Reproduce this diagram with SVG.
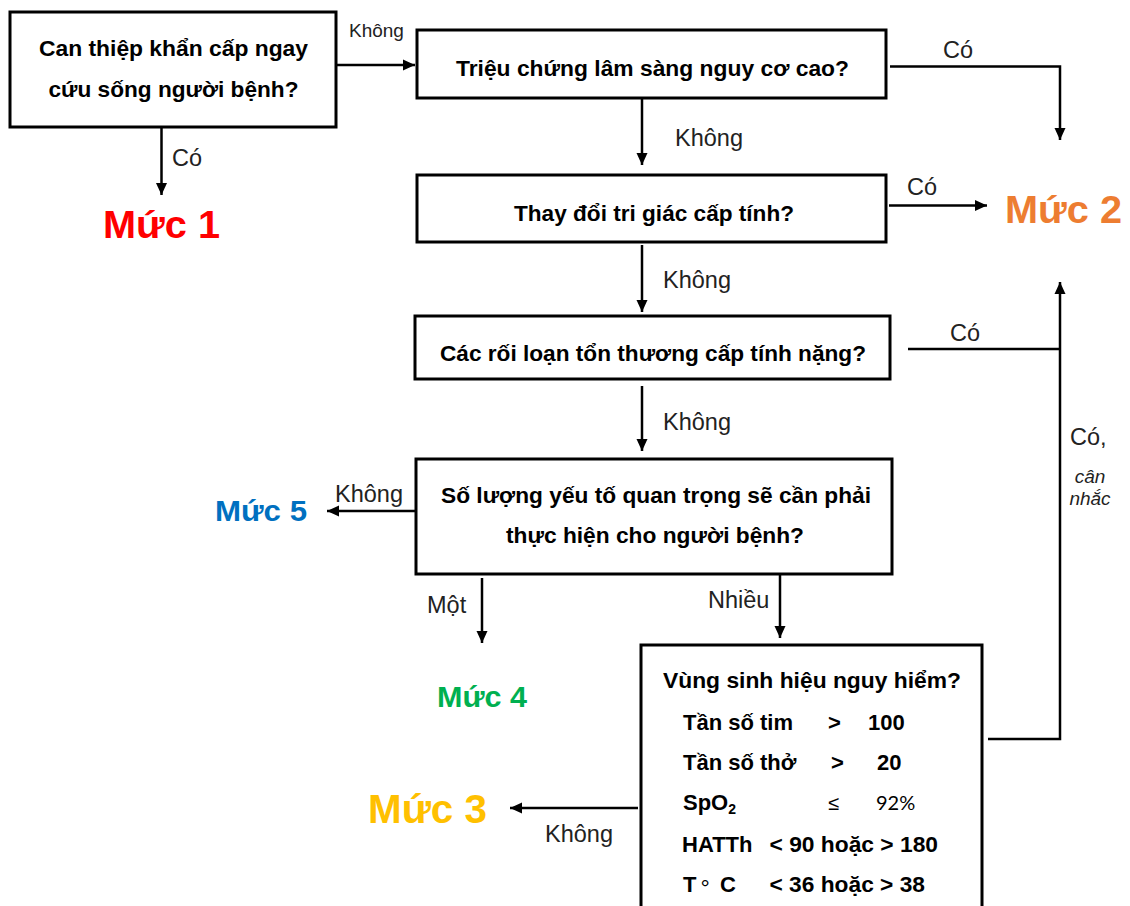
<svg xmlns="http://www.w3.org/2000/svg" width="1130" height="906" viewBox="0 0 1130 906">
  <defs>
    <marker id="ah" viewBox="0 0 12 12" refX="12" refY="6" markerWidth="12" markerHeight="12" markerUnits="userSpaceOnUse" orient="auto">
      <path d="M0,0.5 L12,6 L0,11.5 z" fill="#000"/>
    </marker>
    <style>
      .box { fill: #fff; stroke: #000; stroke-width: 3; }
      .q { font-family: "Liberation Sans", Arial, sans-serif; font-weight: bold; font-size: 21.5px; fill: #000; }
      .row { font-family: "Liberation Sans", Arial, sans-serif; font-weight: bold; font-size: 22px; fill: #000; }
      .thin { font-family: Lato, "Liberation Sans", sans-serif; font-size: 20px; fill: #000; }
      .sym { font-family: "Liberation Sans", Arial, sans-serif; font-size: 20px; fill: #000; }
      .lbl { font-family: "Liberation Sans", Arial, sans-serif; font-size: 23.5px; fill: #222; }
      .lbl-s { font-family: "Liberation Sans", Arial, sans-serif; font-size: 19px; fill: #222; }
      .note { font-family: "Liberation Sans", Arial, sans-serif; font-style: italic; font-size: 19px; fill: #222; }
      .lvl { font-family: "Liberation Sans", Arial, sans-serif; font-weight: bold; }
      .conn { fill: none; stroke: #000; stroke-width: 2.5; }
      .arr { marker-end: url(#ah); }
    </style>
  </defs>
  <rect width="1130" height="906" fill="#fff"/>

  <!-- connectors -->
  <g id="connectors">
    <path class="conn arr" d="M337,65 H415"/>
    <path class="conn arr" d="M161.5,128 V195"/>
    <path class="conn arr" d="M890,66.5 H1060 V140"/>
    <path class="conn arr" d="M642,98 V165"/>
    <path class="conn arr" d="M889,205.5 H987"/>
    <path class="conn arr" d="M642,245 V312"/>
    <path class="conn" d="M908,349 H1060"/>
    <path class="conn arr" d="M642,386 V451"/>
    <path class="conn arr" d="M416,511 H327"/>
    <path class="conn arr" d="M482,578 V643"/>
    <path class="conn arr" d="M780,574 V638"/>
    <path class="conn arr" d="M988,739 H1060 V282"/>
    <path class="conn arr" d="M638,808 H510"/>
  </g>

  <!-- connector labels -->
  <g id="labels">
    <text class="lbl-s" x="349" y="37">Không</text>
    <text class="lbl" x="172" y="166">Có</text>
    <text class="lbl" x="943" y="58">Có</text>
    <text class="lbl" x="675" y="146">Không</text>
    <text class="lbl" x="907" y="195">Có</text>
    <text class="lbl" x="663" y="288">Không</text>
    <text class="lbl" x="950" y="341">Có</text>
    <text class="lbl" x="663" y="430">Không</text>
    <text class="lbl" x="1070" y="445">Có,</text>
    <text class="note" x="1090" y="483" text-anchor="middle">cân</text>
    <text class="note" x="1090" y="505" text-anchor="middle">nhắc</text>
    <text class="lbl" x="335" y="502">Không</text>
    <text class="lbl" x="427" y="613">Một</text>
    <text class="lbl" x="708" y="608">Nhiều</text>
    <text class="lbl" x="545" y="842">Không</text>
  </g>

  <!-- decision boxes -->
  <g id="q1">
    <rect class="box" x="10" y="12" width="326" height="115"/>
    <text class="q" x="173.5" y="56" text-anchor="middle" textLength="269" lengthAdjust="spacingAndGlyphs">Can thiệp khẩn cấp ngay</text>
    <text class="q" x="173.5" y="97" text-anchor="middle" textLength="250" lengthAdjust="spacingAndGlyphs">cứu sống người bệnh?</text>
  </g>
  <g id="q2">
    <rect class="box" x="417" y="30" width="469" height="68"/>
    <text class="q" x="652.5" y="76" text-anchor="middle" textLength="393" lengthAdjust="spacingAndGlyphs">Triệu chứng lâm sàng nguy cơ cao?</text>
  </g>
  <g id="q3">
    <rect class="box" x="417" y="175" width="469" height="67"/>
    <text class="q" x="654" y="221" text-anchor="middle" textLength="280" lengthAdjust="spacingAndGlyphs">Thay đổi tri giác cấp tính?</text>
  </g>
  <g id="q4">
    <rect class="box" x="415" y="316" width="475" height="63"/>
    <text class="q" x="653" y="361" text-anchor="middle" textLength="426" lengthAdjust="spacingAndGlyphs">Các rối loạn tổn thương cấp tính nặng?</text>
  </g>
  <g id="q5">
    <rect class="box" x="416" y="459" width="476" height="115"/>
    <text class="q" x="656" y="503" text-anchor="middle" textLength="430" lengthAdjust="spacingAndGlyphs">Số lượng yếu tố quan trọng sẽ cần phải</text>
    <text class="q" x="655" y="543" text-anchor="middle" textLength="298" lengthAdjust="spacingAndGlyphs">thực hiện cho người bệnh?</text>
  </g>
  <g id="q6">
    <rect class="box" x="641" y="645" width="341" height="280"/>
    <text class="row" x="663" y="688" textLength="298" lengthAdjust="spacingAndGlyphs">Vùng sinh hiệu nguy hiểm?</text>
    <text class="row" x="683" y="730">Tần số tim</text>
    <text class="row" x="828" y="730">&gt;</text>
    <text class="row" x="868" y="730">100</text>
    <text class="row" x="683" y="770">Tần số thở</text>
    <text class="row" x="831" y="770">&gt;</text>
    <text class="row" x="877" y="770">20</text>
    <text class="row" x="683" y="810">SpO<tspan font-size="14" dy="4">2</tspan></text>
    <text class="sym" x="828" y="810">≤</text>
    <text class="thin" x="876" y="810">92%</text>
    <text class="row" x="682" y="852">HATTh</text>
    <text class="row" x="769.5" y="852" textLength="168.5" lengthAdjust="spacingAndGlyphs">&lt; 90 hoặc &gt; 180</text>
    <text class="row" x="683" y="892">T</text>
    <text class="thin" x="701" y="894" font-size="17">°</text>
    <text class="row" x="720" y="892">C</text>
    <text class="row" x="769.5" y="892" textLength="155.5" lengthAdjust="spacingAndGlyphs">&lt; 36 hoặc &gt; 38</text>
  </g>

  <!-- triage levels -->
  <g id="level1"><text class="lvl" x="161.5" y="238" font-size="39" fill="#FF0000" text-anchor="middle" textLength="117" lengthAdjust="spacingAndGlyphs">Mức 1</text></g>
  <g id="level2"><text class="lvl" x="1005" y="223" font-size="39" fill="#ED7D31" textLength="117" lengthAdjust="spacingAndGlyphs">Mức 2</text></g>
  <g id="level3"><text class="lvl" x="368" y="823" font-size="40" fill="#FFC000" textLength="119" lengthAdjust="spacingAndGlyphs">Mức 3</text></g>
  <g id="level4"><text class="lvl" x="437" y="707" font-size="30" fill="#00B050" textLength="90" lengthAdjust="spacingAndGlyphs">Mức 4</text></g>
  <g id="level5"><text class="lvl" x="215" y="521" font-size="30" fill="#0070C0" textLength="92" lengthAdjust="spacingAndGlyphs">Mức 5</text></g>
</svg>
